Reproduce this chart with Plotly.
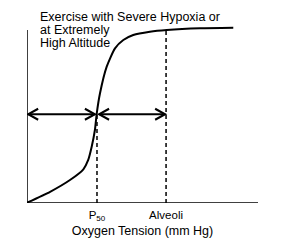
import plotly.graph_objects as go

# Data (schematic oxygen dissociation curve)
tension = [0, 10.0, 18.6, 24.4, 26.5, 28.0, 29.4, 30.2, 31.6, 34.5, 38.1, 41.7, 46.0, 53.2, 60.5, 74.9, 89.3]
saturation = [0.2, 6.5, 13.3, 19.5, 24.9, 32.5, 42.2, 51.8, 63.4, 78.8, 89.4, 94.2, 97.1, 99.0, 100.0, 101.0, 101.3]
tick_vals = [30.3, 60.2]
tick_text = ["P<sub>50</sub>", "Alveoli"]
arrow_level = 51.3
title_lines = ["Exercise with Severe Hypoxia or", "at Extremely", "High Altitude"]

W, H = 304, 245
L, R, T, B = 27, 46, 13, 42
px_x = (W - L - R) / 100.0
px_y = 173 / 100.0
y_top = (H - T - B) / px_y

fig = go.Figure()
fig.add_trace(go.Scatter(x=tension, y=saturation, mode="lines",
                         line=dict(color="black", width=2, shape="spline", smoothing=0.6),
                         hoverinfo="skip", showlegend=False))

shapes = []
# axes
shapes.append(dict(type="line", x0=0, x1=0, y0=0, y1=100, line=dict(color="black", width=1.5)))
shapes.append(dict(type="line", x0=0, x1=100, y0=0, y1=0, line=dict(color="black", width=1.5)))
# dashed verticals
shapes.append(dict(type="line", x0=tick_vals[0], x1=tick_vals[0], y0=0, y1=arrow_level,
                   line=dict(color="black", width=1.5, dash="4px,3px")))
shapes.append(dict(type="line", x0=tick_vals[1], x1=tick_vals[1], y0=0, y1=100,
                   line=dict(color="black", width=1.5, dash="4px,3px")))

hx = 10 / px_x
hy = 5.5 / px_y
def double_arrow(xa, xb, y):
    shapes.append(dict(type="line", x0=xa, x1=xb, y0=y, y1=y, line=dict(color="black", width=2)))
    shapes.append(dict(type="path", path=f"M {xa+hx},{y+hy} L {xa},{y} L {xa+hx},{y-hy}",
                       line=dict(color="black", width=2)))
    shapes.append(dict(type="path", path=f"M {xb-hx},{y+hy} L {xb},{y} L {xb-hx},{y-hy}",
                       line=dict(color="black", width=2)))

double_arrow(0.5, tick_vals[0] - 0.9, arrow_level)
double_arrow(tick_vals[0] + 0.9, tick_vals[1] - 0.4, arrow_level)

annotations = []
for i, t in enumerate(title_lines):
    ypix = 16.5 + 13 * i
    annotations.append(dict(text=t, x=(39 - L) / px_x, y=(203 - ypix) / px_y,
                            xref="x", yref="y", xanchor="left", yanchor="middle",
                            showarrow=False, borderpad=0,
                            font=dict(size=12.5, color="black", family="Liberation Sans, Arial")))

fig.update_layout(
    width=W, height=H,
    margin=dict(l=L, r=R, t=T, b=B, autoexpand=False),
    paper_bgcolor="white", plot_bgcolor="white",
    shapes=shapes, annotations=annotations,
    font=dict(family="Liberation Sans, Arial", color="black"),
    xaxis=dict(range=[0, 100], showgrid=False, zeroline=False, showline=False,
               automargin=False,
               tickvals=tick_vals, ticktext=tick_text, ticks="", tickfont=dict(size=11.5),
               ticklabelstandoff=3,
               title=dict(text="Oxygen Tension (mm Hg)", font=dict(size=12.5), standoff=4)),
    yaxis=dict(range=[0, y_top], showgrid=False, zeroline=False, showline=False,
               automargin=False, showticklabels=False, ticks=""),
)
fig.write_html("out.html")
